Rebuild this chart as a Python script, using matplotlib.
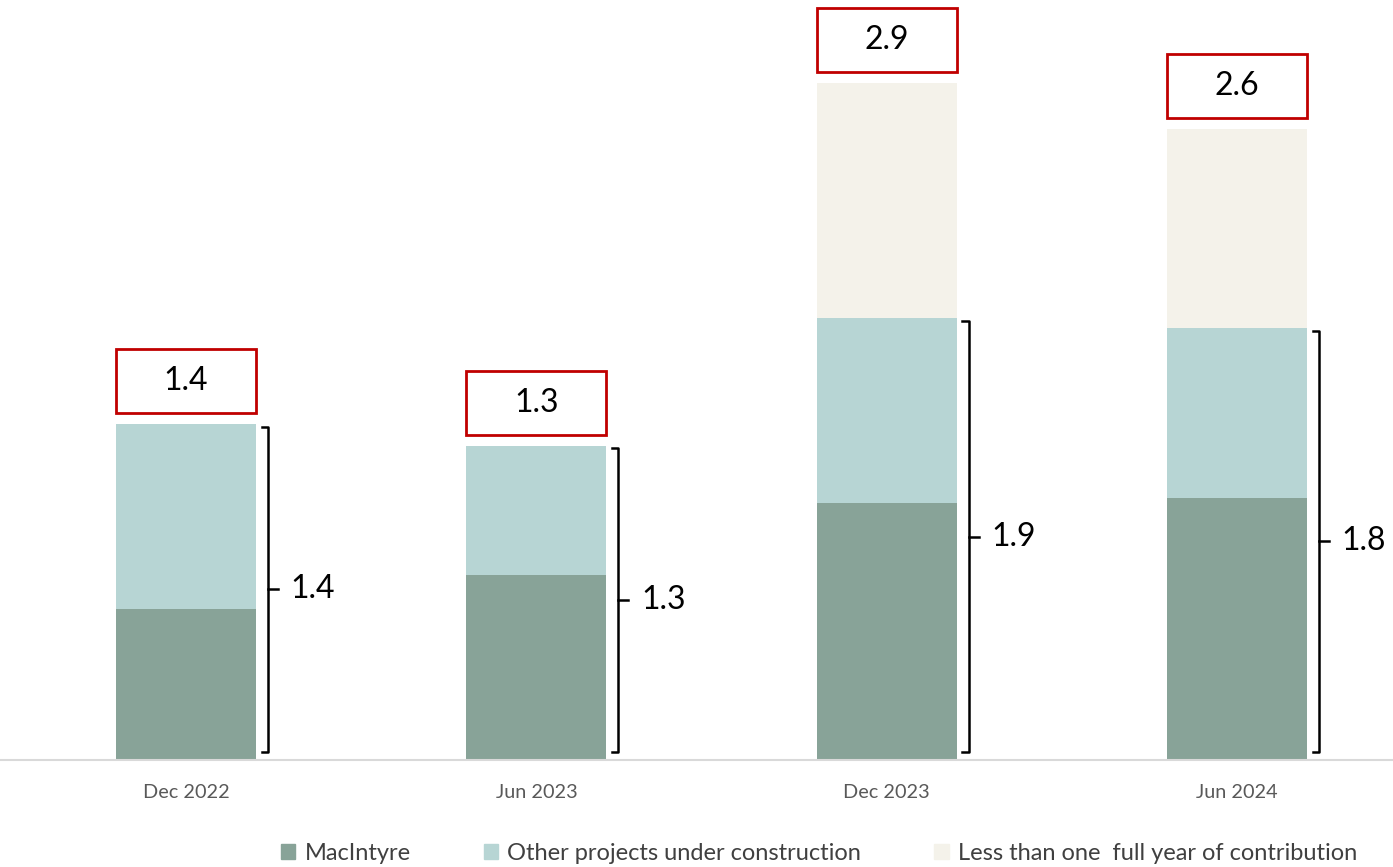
import numpy as np
import matplotlib.pyplot as plt
from matplotlib.patches import Rectangle

# Data
periods = ["Dec 2022", "Jun 2023", "Dec 2023", "Jun 2024"]
macintyre = [0.63, 0.77, 1.07, 1.09]
other_projects = [0.77, 0.54, 0.77, 0.71]
less_than_year = [0.0, 0.0, 0.98, 0.83]
total_labels = ["1.4", "1.3", "2.9", "2.6"]
bracket_labels = ["1.4", "1.3", "1.9", "1.8"]

series_names = ["MacIntyre", "Other projects under construction",
                "Less than one  full year of contribution"]
colors = ["#88A398", "#B7D5D4", "#F4F2EA"]

plt.rcParams['font.family'] = ['Lato', 'DejaVu Sans']

fig = plt.figure(figsize=(13.93, 8.67), dpi=100)
ax = fig.add_axes([0, 107 / 867, 1, 760 / 867])

x = np.arange(len(periods))
w = 0.4
mac = np.array(macintyre)
oth = np.array(other_projects)
les = np.array(less_than_year)

ax.bar(x, mac, w, color=colors[0])
ax.bar(x, oth, w, bottom=mac, color=colors[1])
ax.bar(x, les, w, bottom=mac + oth, color=colors[2])

ax.set_xlim(-0.531, 3.445)
ax.set_ylim(0, 760 / 240)

tot = mac + oth + les
box_h = 64 / 240
for i in range(len(periods)):
    # red box with total on top
    y0 = tot[i] + 0.045
    ax.add_patch(Rectangle((x[i] - w / 2, y0), w, box_h, fill=False,
                           edgecolor="#C00000", linewidth=2, zorder=5))
    ax.text(x[i], y0 + box_h / 2, total_labels[i], ha="center", va="center",
            fontsize=23, color="black")

    # bracket for MacIntyre + other projects
    bx = x[i] + w / 2 + 0.034
    top = mac[i] + oth[i] - 0.012
    bot = 0.033
    mid = (top + bot) / 2
    hook = 0.018
    ax.plot([bx - hook, bx, bx, bx - hook], [top, top, bot, bot],
            color="black", lw=1.8, solid_joinstyle="round")
    ax.plot([bx, bx + 0.028], [mid, mid], color="black", lw=1.8)
    ax.text(bx + 0.065, mid, bracket_labels[i], ha="left", va="center",
            fontsize=23, color="black")

for s in ["top", "right", "left"]:
    ax.spines[s].set_visible(False)
ax.spines["bottom"].set_color("#D9D9D9")
ax.spines["bottom"].set_linewidth(1.5)
ax.set_yticks([])
ax.set_xticks(x)
ax.set_xticklabels(periods, fontsize=14.3, color="#595959")
ax.tick_params(axis="x", length=0, pad=17)

handles = [Rectangle((0, 0), 1, 1, color=c) for c in colors]
fig.legend(handles, series_names, loc="center", bbox_to_anchor=(0.588, 0.016),
           ncol=3, frameon=False, fontsize=17, handlelength=0.6, handleheight=0.6,
           handletextpad=0.4, columnspacing=3.1, labelcolor="#404040")

fig.savefig("out.png", dpi=100)
